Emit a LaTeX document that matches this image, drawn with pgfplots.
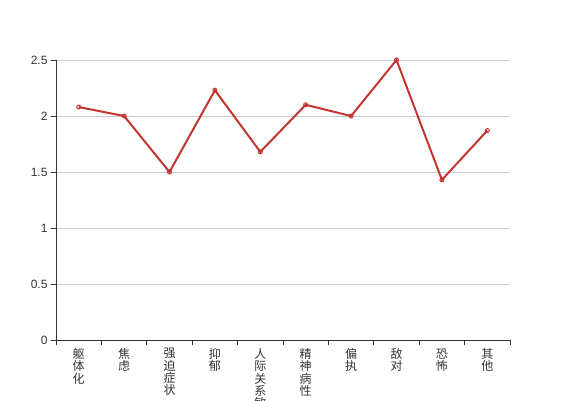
\documentclass[border=0pt]{standalone}
\usepackage{fontspec}
\setmainfont{Liberation Sans}
\newfontfamily\cjk{Noto Sans CJK SC}
\usepackage{pgfplots}
\pgfplotsset{compat=1.18}
\definecolor{ecred}{HTML}{C23531}
\definecolor{txt}{HTML}{333333}
\definecolor{gridc}{HTML}{CCCCCC}
\begin{document}
\begin{tikzpicture}
\useasboundingbox (-56pt,-60pt) rectangle (511pt,340pt);
\clip (-56pt,-60pt) rectangle (511pt,340pt);
\begin{axis}[
 at={(0,0)}, anchor=south west, scale only axis, width=454pt, height=280pt,
 xmin=-0.5, xmax=9.5, ymin=0, ymax=2.5,
 axis lines=left, axis line style={-, txt, line width=1pt},
 xtick={0,...,9},
 xticklabels={{躯\\体\\化},{焦\\虑},{强\\迫\\症\\状},{抑\\郁},{人\\际\\关\\系\\敏\\感},{精\\神\\病\\性},{偏\\执},{敌\\对},{恐\\怖},{其\\他}},
 minor xtick={-0.5,0.5,...,9.5},
 ytick={0,0.5,1,1.5,2,2.5},
 yticklabels={0,0.5,1,1.5,2,2.5},
 tick align=outside,
 major tick length=5pt, minor tick length=5pt,
 major x tick style={draw=none},
 minor x tick style={draw=txt, line width=1pt},
 major y tick style={draw=txt, line width=1pt},
 ymajorgrids, grid style={gridc, line width=1pt},
 xticklabel style={font=\cjk\fontsize{12}{12.3}\selectfont, text=txt, align=center, anchor=north},
 yticklabel style={font=\fontsize{12}{14}\selectfont, text=txt},
 clip=false,
]
\addplot[ecred, line width=2pt, mark=o, mark size=2pt, mark options={fill=white, line width=1pt}]
 coordinates {(0,2.08)(1,2.0)(2,1.5)(3,2.23)(4,1.68)(5,2.1)(6,2.0)(7,2.5)(8,1.43)(9,1.87)};
\end{axis}
\end{tikzpicture}
\end{document}
